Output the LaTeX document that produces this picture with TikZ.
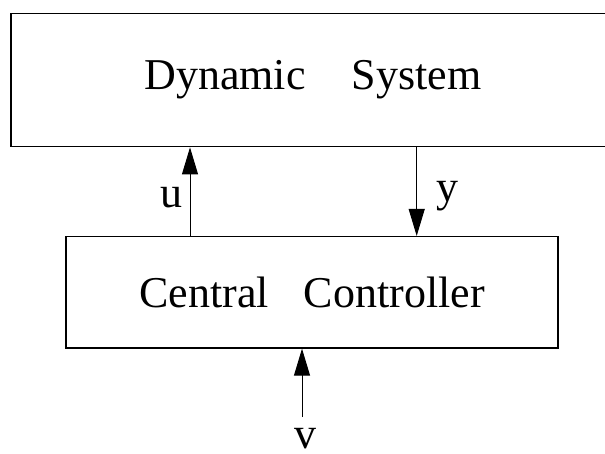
\documentclass[tikz,border=0pt]{standalone}
\usepackage{fontspec}
\setmainfont{Liberation Serif}
\usetikzlibrary{arrows.meta}

\begin{document}
\begin{tikzpicture}[x=1pt, y=-1pt,
    block/.style={draw, line width=1.4pt, inner sep=0pt, font=\fontsize{44}{53}\selectfont},
    sig/.style={line width=1pt, -{Triangle[length=27pt, width=16pt]}},
    lbl/.style={inner sep=0pt, anchor=base, font=\fontsize{44}{53}\selectfont}]
    \useasboundingbox (0,0) rectangle (605,454);
    % the two blocks
    \node [block, minimum width=604pt, minimum height=133.4pt] (sys) at (312.8,80) {Dynamic\hspace{46pt}System};
    \node [block, minimum width=492pt, minimum height=111.3pt] (ctl) at (312,292.3) {Central\hspace{35pt}Controller};
    % signal lines
    \coordinate (uarr) at (190,0);
    \coordinate (yarr) at (416.7,0);
    \coordinate (vin) at (302,417);
    \draw [sig] (uarr |- ctl.north) -- (uarr |- sys.south);
    \draw [sig] (yarr |- sys.south) -- (yarr |- ctl.north);
    \draw [sig] (vin) -- (vin |- ctl.south);
    \node [lbl] (ulbl) at (171.2,208) {u};
    \node [lbl] (ylbl) at (447,201.5) {y};
    \node [lbl] (vlbl) at (305.5,448.5) {v};
\end{tikzpicture}
\end{document}
